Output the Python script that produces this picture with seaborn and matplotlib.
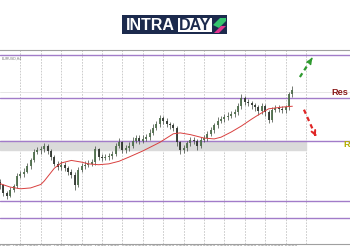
import matplotlib
matplotlib.use("Agg")
import matplotlib.pyplot as plt
from matplotlib.patches import Rectangle, Polygon
import numpy as np
import pandas as pd
import seaborn as sns

# ---------------- data (EURUSD-like, H4 bars) ----------------
bars = list(range(87))
closes = [1.0838, 1.0829, 1.0826, 1.0833, 1.0837, 1.0849, 1.0851, 1.0854, 1.0860, 1.0867,
          1.0877, 1.0879, 1.0880, 1.0884, 1.0878, 1.0871, 1.0863, 1.0859, 1.0862, 1.0858,
          1.0854, 1.0850, 1.0838, 1.0856, 1.0860, 1.0862, 1.0863, 1.0865, 1.0880, 1.0871,
          1.0870, 1.0871, 1.0872, 1.0874, 1.0884, 1.0888, 1.0879, 1.0881, 1.0884, 1.0890,
          1.0893, 1.0890, 1.0892, 1.0894, 1.0899, 1.0905, 1.0909, 1.0916, 1.0913, 1.0909,
          1.0908, 1.0905, 1.0888, 1.0879, 1.0881, 1.0887, 1.0891, 1.0890, 1.0884, 1.0891,
          1.0893, 1.0898, 1.0902, 1.0908, 1.0913, 1.0915, 1.0917, 1.0919, 1.0921, 1.0923,
          1.0930, 1.0940, 1.0935, 1.0934, 1.0931, 1.0929, 1.0924, 1.0930, 1.0923, 1.0914,
          1.0926, 1.0928, 1.0927, 1.0926, 1.0929, 1.0944, 1.0949]
highs = [1.0845, 1.0840, 1.0832, 1.0836, 1.0840, 1.0852, 1.0855, 1.0858, 1.0864, 1.0870,
         1.0880, 1.0883, 1.0884, 1.0887, 1.0886, 1.0880, 1.0873, 1.0866, 1.0866, 1.0865,
         1.0861, 1.0857, 1.0853, 1.0859, 1.0864, 1.0866, 1.0867, 1.0869, 1.0884, 1.0882,
         1.0874, 1.0875, 1.0876, 1.0878, 1.0887, 1.0893, 1.0890, 1.0885, 1.0888, 1.0894,
         1.0897, 1.0896, 1.0896, 1.0898, 1.0903, 1.0909, 1.0913, 1.0920, 1.0919, 1.0916,
         1.0912, 1.0911, 1.0907, 1.0890, 1.0885, 1.0890, 1.0894, 1.0894, 1.0892, 1.0894,
         1.0897, 1.0901, 1.0906, 1.0911, 1.0917, 1.0919, 1.0921, 1.0923, 1.0925, 1.0927,
         1.0934, 1.0944, 1.0942, 1.0938, 1.0936, 1.0934, 1.0932, 1.0934, 1.0933, 1.0926,
         1.0929, 1.0931, 1.0931, 1.0930, 1.0932, 1.0947, 1.0953]
lows = [1.0834, 1.0826, 1.0822, 1.0824, 1.0830, 1.0835, 1.0846, 1.0848, 1.0852, 1.0857,
        1.0865, 1.0874, 1.0875, 1.0877, 1.0875, 1.0868, 1.0860, 1.0856, 1.0856, 1.0855,
        1.0850, 1.0846, 1.0833, 1.0836, 1.0853, 1.0857, 1.0859, 1.0860, 1.0862, 1.0868,
        1.0866, 1.0867, 1.0868, 1.0869, 1.0872, 1.0881, 1.0876, 1.0876, 1.0878, 1.0881,
        1.0887, 1.0886, 1.0887, 1.0889, 1.0891, 1.0896, 1.0902, 1.0906, 1.0909, 1.0906,
        1.0904, 1.0901, 1.0884, 1.0875, 1.0876, 1.0878, 1.0884, 1.0886, 1.0879, 1.0881,
        1.0888, 1.0890, 1.0895, 1.0899, 1.0905, 1.0910, 1.0912, 1.0914, 1.0916, 1.0918,
        1.0920, 1.0927, 1.0931, 1.0930, 1.0927, 1.0925, 1.0920, 1.0921, 1.0919, 1.0910,
        1.0912, 1.0923, 1.0923, 1.0922, 1.0922, 1.0926, 1.0941]
first_open = 1.0842

ma_bars = [0, 3, 6, 9, 12, 13, 15, 16, 18, 21, 24, 26, 29, 32, 35, 38, 42, 47, 51, 53,
           56, 60, 63, 65, 68, 71, 74, 76, 79, 83, 86]
ma_values = [1.0840, 1.0836, 1.0834, 1.0835, 1.0839, 1.0843, 1.0853, 1.0858, 1.0864, 1.0867,
             1.0865, 1.0863, 1.0862, 1.0863, 1.0866, 1.0871, 1.0878, 1.0888, 1.0898, 1.0899,
             1.0897, 1.0893, 1.0892, 1.0894, 1.0900, 1.0907, 1.0915, 1.0920, 1.0927, 1.0929,
             1.0930]

levels = [1.0990, 1.0940, 1.0890, 1.0820, 1.0800]
zone = [1.0879, 1.0890]
grid_level = [1.0947]
day_bars = [6, 12, 18, 24, 30, 36, 42, 48, 54, 60, 66, 72, 78, 84, 90]
label_bars = [1.5, 5.5, 9.5, 13.5, 17.5, 21.5, 25.5, 29.5, 33.5, 37.5, 41.5, 45.5, 49.5,
              53.5, 57.5, 61.5, 65.5, 69.5, 73.5, 77.5, 81.5, 85.5]
date_labels = ["2 Jan 2024", "2 Jan 16:00", "3 Jan 08:00", "4 Jan 00:00", "4 Jan 16:00",
               "5 Jan 08:00", "8 Jan 00:00", "8 Jan 16:00", "9 Jan 08:00", "10 Jan 00:00",
               "10 Jan 16:00", "11 Jan 08:00", "12 Jan 00:00", "12 Jan 16:00", "15 Jan 08:00",
               "16 Jan 00:00", "16 Jan 16:00", "17 Jan 08:00", "18 Jan 00:00", "18 Jan 16:00",
               "19 Jan 08:00", "22 Jan 00:00"]
up_arrow = ([88.2, 91.8], [1.0964, 1.0986])
down_arrow = ([89.4, 92.9], [1.0926, 1.0895])

# ---------------- figure ----------------
sns.set_theme(style="white")
plt.rcParams['font.family'] = ['Liberation Sans', 'DejaVu Sans']

fig = plt.figure(figsize=(3.5, 2.5), dpi=100)
fig.patch.set_facecolor("white")
ax = fig.add_axes([0, 0.024, 1, 0.776])

XMAX = 350 / 3.4
ax.set_xlim(0, XMAX)
ax.set_ylim(1.07698, 1.09954)

# vertical dashed day grid
ax.set_xticks(day_bars)
ax.set_xticklabels([])
ax.tick_params(axis='x', which='major', length=0)
ax.grid(axis='x', which='major', color='#c4c4c4', linestyle=(0, (2, 1.5)), linewidth=0.6)
ax.set_xticks(label_bars, minor=True)
ax.set_xticklabels(date_labels, minor=True, fontsize=1.5, color='#666666')
ax.tick_params(axis='x', which='minor', length=0, pad=0.8)
ax.set_yticks([])

# zone and levels
ax.axhspan(zone[0], zone[1], xmin=0, xmax=90 / XMAX, color='#dadada', zorder=1)
for g in grid_level:
    ax.axhline(g, color='#e2e2e2', lw=0.6, zorder=1)
for lv in levels:
    ax.axhline(lv, color='#a27cc9', lw=1.0, zorder=2)

# candles
df = pd.DataFrame({"bar": bars, "close": closes, "high": highs, "low": lows})
df["open"] = [first_open] + closes[:-1]
up = df["close"] >= df["open"]
ax.vlines(df["bar"], df["low"], df["high"], color='#3c453b', lw=0.5, zorder=3)
ax.vlines(df.loc[up, "bar"], df.loc[up, "open"], df.loc[up, "close"], color='#4f6e4c', lw=1.3, zorder=4)
ax.vlines(df.loc[~up, "bar"], df.loc[~up, "close"], df.loc[~up, "open"], color='#2f352f', lw=1.3, zorder=4)

ma_df = pd.DataFrame({"bar": ma_bars, "ma": ma_values})
sns.lineplot(data=ma_df, x="bar", y="ma", ax=ax, color='#d9403f', lw=0.7, zorder=5)
ax.set_xlabel("")
ax.set_ylabel("")

# projection arrows
for (xs, ys), col in [(up_arrow, '#2f9a2f'), (down_arrow, '#e02626')]:
    ax.plot(xs, ys, color=col, lw=1.6, linestyle=(0, (2, 1.6)), zorder=6)
    ax.annotate('', xy=(xs[1], ys[1]),
                xytext=(xs[1] - (xs[1] - xs[0]) * 0.15, ys[1] - (ys[1] - ys[0]) * 0.15),
                arrowprops=dict(arrowstyle='->', color=col, lw=1.4, mutation_scale=7), zorder=6)

ax.text(331 / 3.4, levels[1] + 0.0006, "Res", color='#8b1c1c', fontsize=6.6,
        fontweight='bold', va='center', ha='left')
ax.text(343 / 3.4, zone[1] - 0.0005, "R", color='#b3ad00', fontsize=6.6,
        fontweight='bold', va='center', ha='left')
ax.text(0.5, 1.0985, "EURUSD,H4", fontsize=2.5, color='#777777', va='center', ha='left')

for side in ['left', 'right']:
    ax.spines[side].set_visible(False)
for side in ['top', 'bottom']:
    ax.spines[side].set_color('#a0a0a0')
    ax.spines[side].set_linewidth(0.8)

# logo
def fx(x):
    return x / 350
def fy(y):
    return 1 - y / 250

fig.patches.append(Rectangle((fx(122), fy(34)), 105 / 350, 19 / 250, transform=fig.transFigure,
                             facecolor='#1c2a4d', edgecolor='none'))
fig.patches.append(Rectangle((fx(178), fy(32)), 34 / 350, 14 / 250, transform=fig.transFigure,
                             facecolor='white', edgecolor='none'))
fig.text(fx(126), fy(25), "INTRA", color='white', fontsize=11.5, fontweight='bold',
         va='center', ha='left')
fig.text(fx(195), fy(25), "DAY", color='#1c2a4d', fontsize=11.5, fontweight='bold',
         va='center', ha='center')
fig.patches.append(Polygon([(fx(213), fy(25)), (fx(220), fy(18)), (fx(226), fy(18)),
                            (fx(226), fy(21)), (fx(219), fy(28))], closed=True,
                           transform=fig.transFigure, facecolor='#35c46e', edgecolor='none'))
fig.patches.append(Polygon([(fx(214), fy(33)), (fx(221), fy(26)), (fx(226), fy(26)),
                            (fx(219), fy(33))], closed=True,
                           transform=fig.transFigure, facecolor='#e2338e', edgecolor='none'))

fig.savefig("out.png", dpi=100, facecolor='white')
